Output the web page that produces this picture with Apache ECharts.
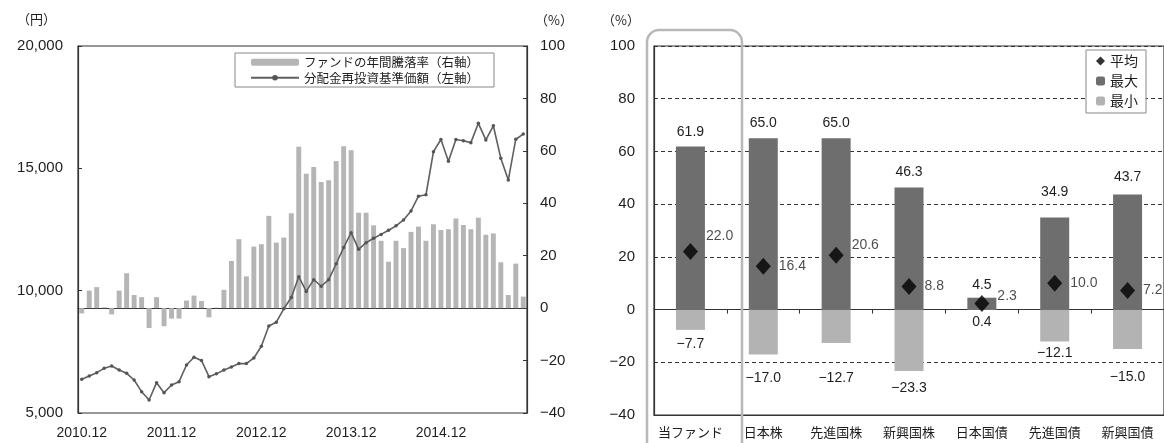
<!DOCTYPE html>
<html><head><meta charset="utf-8">
<script src="https://cdn.jsdelivr.net/npm/echarts@6/dist/echarts.min.js"></script>
<style>html,body{margin:0;padding:0;background:#fff}#c{width:1164px;height:443px}</style>
</head><body><div id="c"></div>
<script>
// ---------- Left chart data ----------
const months = ['2010.12',
'2011.01','2011.02','2011.03','2011.04','2011.05','2011.06','2011.07','2011.08','2011.09','2011.10','2011.11','2011.12',
'2012.01','2012.02','2012.03','2012.04','2012.05','2012.06','2012.07','2012.08','2012.09','2012.10','2012.11','2012.12',
'2013.01','2013.02','2013.03','2013.04','2013.05','2013.06','2013.07','2013.08','2013.09','2013.10','2013.11','2013.12',
'2014.01','2014.02','2014.03','2014.04','2014.05','2014.06','2014.07','2014.08','2014.09','2014.10','2014.11','2014.12',
'2015.01','2015.02','2015.03','2015.04','2015.05','2015.06','2015.07','2015.08','2015.09','2015.10','2015.11'];
const annualReturn = [-2,6.7,8,0.3,-2.4,6.7,13.3,5,4.2,-7.6,4.2,-6.9,-4,-4,2.9,4.8,2.7,-3.5,0.2,7,
18,26.3,12.1,23.5,24.4,35.2,25,26.9,36.2,61.6,51.3,53.8,48.1,48.8,56.1,61.8,60.2,36.4,36.4,31.6,
25.7,17.7,25.7,22.9,29.1,31.1,25.7,32,29.8,30.1,34.2,31.7,30.1,34.5,28,28.5,17.5,5,17,4.4];
const navReinvested = [6376,6512,6648,6826,6921,6757,6621,6349,5872,5531,6240,5831,6144,6281,6962,7280,7150,6485,6600,6757,
6880,7020,7020,7250,7730,8556,8710,9260,9720,10571,9970,10450,10180,10450,11100,11760,12370,11690,11960,12140,
12300,12470,12650,12890,13260,13860,13920,15680,16180,15290,16180,16130,16050,16840,16160,16740,15410,14520,16190,16400];
const leftLegend = ['ファンドの年間騰落率（右軸）','分配金再投資基準価額（左軸）'];

// ---------- Right chart data ----------
const assetClasses = ['当ファンド','日本株','先進国株','新興国株','日本国債','先進国債','新興国債'];
const avgVals = [22.0,16.4,20.6,8.8,2.3,10.0,7.2];
const maxVals = [61.9,65.0,65.0,46.3,4.5,34.9,43.7];
const minVals = [-7.7,-17.0,-12.7,-23.3,0.4,-12.1,-15.0];
const rightLegend = ['平均','最大','最小'];

// label vertical nudges (style only)
const maxLabelDy = [-2,-3,-3,-3,-1,-13,-5];
const minLabelDy = [2,12,23,5,1,0,16];
const avgLabelDy = [-15,0,-10,0,-7,0,0];

const FONT = '"Liberation Sans", Arial, "Noto Sans CJK JP", sans-serif';
const TXT = '#1e1e1e';
const minus = v => (v < 0 ? '\u2212' + Math.abs(v) : String(v));
const fmt1 = v => (v < 0 ? '\u2212' + Math.abs(v).toFixed(1) : v.toFixed(1));

const chart = echarts.init(document.getElementById('c'), null, {renderer: 'canvas'});
chart.setOption({
  animation: false,
  textStyle: {fontFamily: FONT, color: TXT},
  grid: [
    {left: 78, top: 46, width: 449, height: 367, show: true, borderColor: '#333', borderWidth: 1.2, backgroundColor: 'transparent'},
    {left: 654, top: 46, width: 513, height: 369, show: true, borderColor: '#333', borderWidth: 1.2, backgroundColor: 'transparent'}
  ],
  legend: [
    {
      left: 235, top: 53, orient: 'vertical', data: leftLegend,
      borderColor: '#888', borderWidth: 1, padding: [3, 15, 3, 15], itemGap: 3,
      itemWidth: 48, itemHeight: 7, backgroundColor: '#fff',
      textStyle: {fontSize: 12.5, color: TXT, fontFamily: '"Noto Sans CJK JP", sans-serif'}
    },
    {
      left: 1086, top: 50, orient: 'vertical', data: rightLegend,
      borderColor: '#888', borderWidth: 1, padding: [4, 8, 5, 10], itemGap: 6,
      itemWidth: 9, itemHeight: 9, backgroundColor: '#fff',
      textStyle: {fontSize: 14, color: TXT, fontFamily: '"Noto Sans CJK JP", sans-serif'}
    }
  ],
  graphic: [
    {type: 'text', left: 17, top: 13, style: {text: '（円）', font: '13px "Noto Sans CJK JP"', fill: TXT}},
    {type: 'text', left: 535, top: 14, style: {text: '（%）', font: '13px "Noto Sans CJK JP"', fill: TXT}},
    {type: 'text', left: 602, top: 14, style: {text: '（%）', font: '13px "Noto Sans CJK JP"', fill: TXT}},
    {type: 'rect', z: 100, shape: {x: 647, y: 30, width: 95, height: 440, r: 12},
     style: {fill: 'none', stroke: '#b8b8b8', lineWidth: 2.5}}
  ],
  xAxis: [
    {
      type: 'category', gridIndex: 0, data: months, boundaryGap: true,
      axisLine: {lineStyle: {color: '#333', width: 1.2}},
      axisTick: {show: false},
      axisLabel: {interval: (i, v) => v.endsWith('.12'), fontSize: 14, color: TXT, margin: 13, fontFamily: FONT}
    },
    {
      type: 'category', gridIndex: 1, data: assetClasses,
      axisLine: {onZero: false, lineStyle: {color: '#333', width: 1.2}},
      axisTick: {show: false},
      axisLabel: {interval: 0, fontSize: 13, color: TXT, margin: 11, fontFamily: '"Noto Sans CJK JP", sans-serif'}
    },
    {
      type: 'category', gridIndex: 1, data: assetClasses,
      axisLine: {onZero: true, lineStyle: {color: '#333', width: 1.2}},
      axisTick: {show: true, inside: true, length: 4, interval: 0, lineStyle: {color: '#333'}},
      axisLabel: {show: false}
    }
  ],
  yAxis: [
    {
      type: 'value', gridIndex: 0, min: 5000, max: 20000, interval: 5000, position: 'left',
      axisLine: {show: true, lineStyle: {color: '#333', width: 1.2}},
      axisTick: {show: true, inside: true, length: 4, lineStyle: {color: '#333'}},
      splitLine: {show: false},
      axisLabel: {fontSize: 15, color: TXT, margin: 15, fontFamily: FONT,
        formatter: v => v.toLocaleString('en-US')}
    },
    {
      type: 'value', gridIndex: 0, min: -40, max: 100, interval: 20, position: 'right',
      axisLine: {show: true, lineStyle: {color: '#333', width: 1.2}},
      axisTick: {show: true, inside: true, length: 4, lineStyle: {color: '#333'}},
      splitLine: {show: false},
      axisLabel: {fontSize: 15, color: TXT, margin: 13, fontFamily: FONT, formatter: minus}
    },
    {
      type: 'value', gridIndex: 1, min: -40, max: 100, interval: 20,
      axisLine: {show: true, lineStyle: {color: '#333', width: 1.2}},
      axisTick: {show: false},
      splitLine: {show: true, lineStyle: {color: '#333', type: [4, 3], width: 1}},
      axisLabel: {fontSize: 15, color: TXT, margin: 19, fontFamily: FONT, formatter: minus}
    }
  ],
  series: [
    {
      name: leftLegend[0], type: 'bar', xAxisIndex: 0, yAxisIndex: 1,
      data: annualReturn, barWidth: '66%', itemStyle: {color: '#b5b5b5'}
    },
    {
      name: leftLegend[1], type: 'line', xAxisIndex: 0, yAxisIndex: 0,
      data: navReinvested, symbol: 'circle', symbolSize: 3.5,
      lineStyle: {color: '#5f5f5f', width: 1.6}, itemStyle: {color: '#555'}
    },
    {
      name: '最小', type: 'bar', xAxisIndex: 1, yAxisIndex: 2, barWidth: 29, barGap: '-100%',
      itemStyle: {color: '#b3b3b3'},
      data: minVals.map((v, i) => ({value: v, label: {offset: [0, minLabelDy[i]]}})),
      label: {show: true, position: 'bottom', distance: 5, fontSize: 14, color: TXT, fontFamily: FONT,
        formatter: p => fmt1(p.value)}
    },
    {
      name: '最大', type: 'bar', xAxisIndex: 1, yAxisIndex: 2, barWidth: 29, barGap: '-100%',
      itemStyle: {color: '#6e6e6e'},
      data: maxVals.map((v, i) => ({value: v, label: {offset: [0, maxLabelDy[i]]}})),
      label: {show: true, position: 'top', distance: 5, fontSize: 14, color: TXT, fontFamily: FONT,
        formatter: p => fmt1(p.value)}
    },
    {
      name: '平均', type: 'scatter', xAxisIndex: 1, yAxisIndex: 2, z: 5,
      symbol: 'diamond', symbolSize: [15, 17], itemStyle: {color: '#000'},
      data: avgVals.map((v, i) => ({value: v, label: {offset: [0, avgLabelDy[i]]}})),
      label: {show: true, position: 'right', distance: 8, fontSize: 14, color: TXT, fontFamily: FONT,
        formatter: p => fmt1(p.value)}
    }
  ]
});
</script></body></html>
